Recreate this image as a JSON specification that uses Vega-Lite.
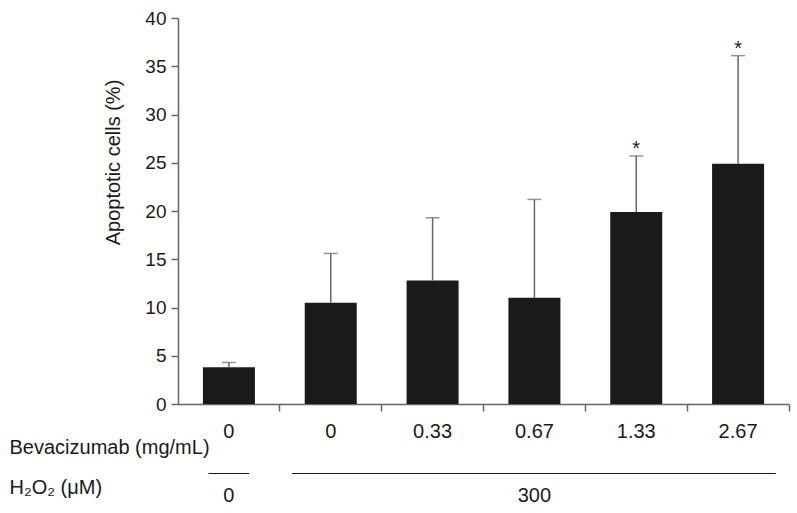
{
  "$schema": "https://vega.github.io/schema/vega-lite/v6.json",
  "width": 611,
  "height": 386,
  "autosize": {"type": "none"},
  "padding": {"left": 178, "top": 18, "right": 8, "bottom": 109},
  "config": {
    "view": {"stroke": null},
    "font": "Liberation Sans",
    "axis": {"grid": false, "labelFont": "Liberation Sans", "titleFont": "Liberation Sans"}
  },
  "datasets": {
    "main": [
      {"cond": "0|0", "bevacizumab": "0", "h2o2": "0", "value": 3.8, "upper": 4.3, "sig": null},
      {"cond": "0|300", "bevacizumab": "0", "h2o2": "300", "value": 10.5, "upper": 15.6, "sig": null},
      {"cond": "0.33|300", "bevacizumab": "0.33", "h2o2": "300", "value": 12.8, "upper": 19.3, "sig": null},
      {"cond": "0.67|300", "bevacizumab": "0.67", "h2o2": "300", "value": 11.0, "upper": 21.2, "sig": null},
      {"cond": "1.33|300", "bevacizumab": "1.33", "h2o2": "300", "value": 19.9, "upper": 25.7, "sig": "*"},
      {"cond": "2.67|300", "bevacizumab": "2.67", "h2o2": "300", "value": 24.9, "upper": 36.1, "sig": "*"}
    ],
    "h2o2_control": [{"h2o2": "0", "from": "0|0", "to": "0|0"}],
    "h2o2_treated": [{"h2o2": "300", "from": "0|300", "to": "2.67|300"}]
  },
  "resolve": {"axis": {"x": "independent", "y": "independent"}},
  "layer": [
    {
      "data": {"name": "main"},
      "mark": {"type": "bar", "color": "#1a1a1a", "size": 52},
      "encoding": {
        "x": {
          "field": "cond", "type": "nominal",
          "scale": {"domain": ["0|0", "0|300", "0.33|300", "0.67|300", "1.33|300", "2.67|300"], "paddingInner": 0, "paddingOuter": 0},
          "axis": {"orient": "bottom", "bandPosition": 1, "labels": false, "title": null, "domainColor": "#666", "domainWidth": 1.5, "tickColor": "#666", "tickWidth": 1.5, "tickSize": 7}
        },
        "y": {
          "field": "value", "type": "quantitative",
          "scale": {"domain": [0, 40], "nice": false},
          "axis": {
            "title": "Apoptotic cells (%)", "values": [0, 5, 10, 15, 20, 25, 30, 35, 40],
            "domainColor": "#666", "domainWidth": 1.5, "tickColor": "#666", "tickWidth": 1.5, "tickSize": 7,
            "labelFontSize": 19, "labelColor": "#1a1a1a", "labelPadding": 5,
            "titleFontSize": 20, "titleFontWeight": "normal", "titleColor": "#1a1a1a",
            "titleX": -65, "titleY": 144, "titleAngle": 270, "titleAlign": "center", "titleBaseline": "middle"
          }
        }
      }
    },
    {
      "data": {"name": "main"},
      "mark": {"type": "rule", "color": "#666", "strokeWidth": 1.5},
      "encoding": {
        "x": {
          "field": "cond", "type": "nominal",
          "scale": {"domain": ["0|0", "0|300", "0.33|300", "0.67|300", "1.33|300", "2.67|300"], "paddingInner": 0, "paddingOuter": 0},
          "axis": {
            "orient": "bottom", "domain": false, "ticks": false, "labelAngle": 0, "labelAlign": "center",
            "labelExpr": "split(datum.value, '|')[0]", "labelFontSize": 20, "labelColor": "#1a1a1a", "labelPadding": 17,
            "title": "Bevacizumab (mg/mL)", "titleFontSize": 20, "titleFontWeight": "normal", "titleColor": "#1a1a1a",
            "titleX": -169, "titleY": 49, "titleAlign": "left", "titleBaseline": "alphabetic", "titleAnchor": "start"
          }
        },
        "y": {"field": "value", "type": "quantitative", "scale": {"domain": [0, 40], "nice": false}, "axis": null},
        "y2": {"field": "upper"}
      }
    },
    {
      "data": {"name": "main"},
      "mark": {"type": "tick", "color": "#666", "thickness": 1.5, "size": 14},
      "encoding": {
        "x": {"field": "cond", "type": "nominal", "scale": {"domain": ["0|0", "0|300", "0.33|300", "0.67|300", "1.33|300", "2.67|300"], "paddingInner": 0, "paddingOuter": 0}, "axis": null},
        "y": {"field": "upper", "type": "quantitative", "scale": {"domain": [0, 40], "nice": false}, "axis": null}
      }
    },
    {
      "data": {"name": "main"},
      "transform": [{"filter": "datum.sig != null"}],
      "mark": {"type": "text", "fontSize": 20, "baseline": "alphabetic", "dy": -1, "color": "#1a1a1a"},
      "encoding": {
        "x": {"field": "cond", "type": "nominal", "scale": {"domain": ["0|0", "0|300", "0.33|300", "0.67|300", "1.33|300", "2.67|300"], "paddingInner": 0, "paddingOuter": 0}, "axis": null},
        "y": {"field": "upper", "type": "quantitative", "scale": {"domain": [0, 40], "nice": false}, "axis": null},
        "text": {"field": "sig"}
      }
    },
    {
      "data": {"name": "h2o2_control"},
      "mark": {"type": "rule", "color": "#1a1a1a", "strokeWidth": 1.2},
      "encoding": {
        "x": {
          "field": "from", "type": "nominal", "bandPosition": 0.3,
          "scale": {"domain": ["0|0", "0|300", "0.33|300", "0.67|300", "1.33|300", "2.67|300"], "paddingInner": 0, "paddingOuter": 0},
          "axis": {
            "orient": "bottom", "domain": false, "ticks": false, "labelAngle": 0, "labelAlign": "center",
            "labelExpr": "datum.value == '0|0' ? '0' : (datum.value == '0.67|300' ? '300' : '')",
            "labelFontSize": 20, "labelColor": "#1a1a1a", "labelPadding": 81,
            "title": "H₂O₂ (μM)", "titleFontSize": 20, "titleFontWeight": "normal", "titleColor": "#1a1a1a",
            "titleX": -169, "titleY": 89, "titleAlign": "left", "titleBaseline": "alphabetic", "titleAnchor": "start"
          }
        },
        "x2": {"field": "to", "bandPosition": 0.7},
        "y": {"datum": -7.2, "type": "quantitative", "scale": {"domain": [0, 40], "nice": false}, "axis": null}
      }
    },
    {
      "data": {"name": "h2o2_treated"},
      "mark": {"type": "rule", "color": "#1a1a1a", "strokeWidth": 1.2},
      "encoding": {
        "x": {"field": "from", "type": "nominal", "bandPosition": 0.12, "scale": {"domain": ["0|0", "0|300", "0.33|300", "0.67|300", "1.33|300", "2.67|300"], "paddingInner": 0, "paddingOuter": 0}, "axis": null},
        "x2": {"field": "to", "bandPosition": 0.87},
        "y": {"datum": -7.2, "type": "quantitative", "scale": {"domain": [0, 40], "nice": false}, "axis": null}
      }
    }
  ]
}
